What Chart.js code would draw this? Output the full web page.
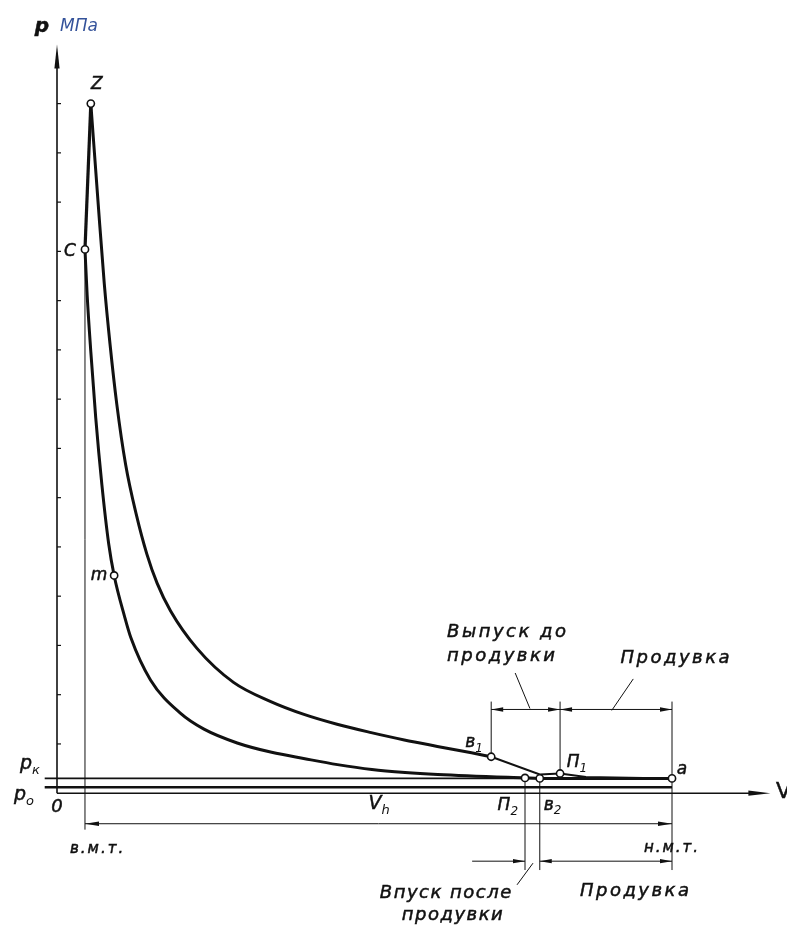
<!DOCTYPE html>
<html lang="ru">
<head>
<meta charset="UTF-8">
<title>Индикаторная диаграмма</title>
<script src="https://cdn.jsdelivr.net/npm/chart.js"></script>
<style>
    body { margin: 0; background: #fff; }
    #wrap { width: 787px; height: 927px; }
</style>
</head>
<body>
<div id="wrap"><canvas id="diagrama" width="787" height="927"></canvas></div>
<script>
    // V - объём (н.м.т. = 100), p - давление, МПа
    const compV = [4.55, 4.9, 5.5, 6.3, 7.3, 8.41, 9.29, 11.0, 12.0, 15.2, 20.1, 23.9, 29.3, 34.9, 40.3, 45.6, 51.2, 56.6, 61.9, 76.1, 78.5, 100];
    const compP = [5.52, 5.06, 4.48, 3.81, 3.13, 2.53, 2.21, 1.79, 1.58, 1.15, 0.81, 0.65, 0.51, 0.415, 0.35, 0.29, 0.24, 0.21, 0.19, 0.155, 0.15, 0.15];

    const expV = [5.5, 6.7, 7.69, 8.62, 9.72, 11.15, 12.89, 14.6, 16.29, 18.47, 22.76, 28.7, 34.76, 40.16, 45.54, 51.09, 56.47, 61.85, 67.4, 70.6];
    const expP = [7.0, 5.98, 5.17, 4.56, 3.95, 3.34, 2.83, 2.43, 2.13, 1.85, 1.47, 1.125, 0.93, 0.80, 0.70, 0.615, 0.54, 0.475, 0.41, 0.37];

    const burnV = [4.55, 5.5];
    const burnP = [5.52, 7.0];

    const exhV = [70.6, 78.5, 81.8, 86, 100];
    const exhP = [0.37, 0.19, 0.20, 0.165, 0.15];

    const pointNames = ['Z', 'C', 'm', 'в1', 'П1', 'a', 'П2', 'в2'];
    const pointV = [5.5, 4.55, 9.29, 70.6, 81.8, 100, 76.1, 78.5];
    const pointP = [7.0, 5.52, 2.21, 0.37, 0.20, 0.15, 0.155, 0.15];

    const pK = 0.15;   // давление продувочного воздуха
    const p0 = 0.06;   // атмосферная линия
    const pTicks = [0.5, 1, 1.5, 2, 2.5, 3, 3.5, 4, 4.5, 5, 5.5, 6, 6.5, 7];

    const ink = '#111';
    const fam = "'DejaVu Sans', sans-serif";

    function pts(vs, ps) {
        return vs.map((v, i) => ({ x: v, y: ps[i] }));
    }

    function seg(ctx, x1, y1, x2, y2, w) {
        ctx.lineWidth = w;
        ctx.beginPath();
        ctx.moveTo(x1, y1);
        ctx.lineTo(x2, y2);
        ctx.stroke();
    }

    // остриё в (x, y), направление (dx, dy)
    function arrow(ctx, x, y, dx, dy, len, w) {
        ctx.beginPath();
        ctx.moveTo(x, y);
        ctx.lineTo(x - dx * len - dy * w, y - dy * len + dx * w);
        ctx.lineTo(x - dx * len + dy * w, y - dy * len - dx * w);
        ctx.closePath();
        ctx.fill();
    }

    function text(ctx, s, x, y, font, spacing) {
        ctx.font = font;
        ctx.letterSpacing = (spacing || 0) + 'px';
        ctx.textAlign = 'center';
        ctx.textBaseline = 'middle';
        ctx.fillText(s, x, y);
        ctx.lineWidth = 0.5;
        ctx.strokeText(s, x, y);
        ctx.letterSpacing = '0px';
    }

    function withSub(ctx, main, sub, x, y, size) {
        ctx.font = `italic ${size}px ${fam}`;
        ctx.textAlign = 'center';
        ctx.textBaseline = 'middle';
        ctx.lineWidth = 0.5;
        ctx.fillText(main, x, y);
        ctx.strokeText(main, x, y);
        const w = ctx.measureText(main).width;
        ctx.font = `italic ${Math.round(size * 0.7)}px ${fam}`;
        ctx.textAlign = 'left';
        ctx.fillText(sub, x + w / 2, y + size * 0.35);
    }

    const labelOffset = {
        'Z': [6, -19], 'C': [-15, 2], 'm': [-15, 0], 'в1': [-21, -14],
        'П1': [13, -11], 'a': [10, -9], 'П2': [-21, 28], 'в2': [9, 27]
    };

    const osi = {
        id: 'osi',
        beforeDatasetsDraw(chart) {
            const { ctx, scales: { x, y } } = chart;
            const X = v => x.getPixelForValue(v);
            const Y = p => y.getPixelForValue(p);
            ctx.save();
            ctx.strokeStyle = ink;
            ctx.fillStyle = ink;

            // ось p
            seg(ctx, X(0), Y(0), X(0), Y(y.max) + 18, 1.6);
            arrow(ctx, X(0), Y(y.max), 0, -1, 24, 2.6);
            pTicks.forEach(t => seg(ctx, X(0), Y(t), X(0) + 4, Y(t), 1.2));

            // ось V
            seg(ctx, X(0), Y(0), X(x.max) - 16, Y(0), 1.5);
            arrow(ctx, X(x.max), Y(0), 1, 0, 22, 2.6);

            // в.м.т. и н.м.т.
            seg(ctx, X(compV[0]), Y(compP[0]), X(compV[0]), Y(-0.37), 1);
            seg(ctx, X(100), Y(0.93), X(100), Y(-0.78), 1);

            // выносные линии
            seg(ctx, X(pointV[3]), Y(pointP[3]), X(pointV[3]), Y(0.93), 1);
            seg(ctx, X(pointV[4]), Y(pointP[4]), X(pointV[4]), Y(0.93), 1);
            seg(ctx, X(pointV[6]), Y(pointP[6]), X(pointV[6]), Y(-0.78), 1);
            seg(ctx, X(pointV[7]), Y(pointP[7]), X(pointV[7]), Y(-0.78), 1);

            // размер Vh
            const yh = Y(-0.31);
            seg(ctx, X(compV[0]), yh, X(100), yh, 1);
            arrow(ctx, X(compV[0]), yh, -1, 0, 14, 2.2);
            arrow(ctx, X(100), yh, 1, 0, 14, 2.2);

            // выпуск до продувки / продувка (сверху)
            const yt = Y(0.85);
            seg(ctx, X(pointV[3]), yt, X(100), yt, 1);
            arrow(ctx, X(pointV[3]), yt, -1, 0, 12, 2.2);
            arrow(ctx, X(pointV[4]), yt, 1, 0, 12, 2.2);
            arrow(ctx, X(pointV[4]), yt, -1, 0, 12, 2.2);
            arrow(ctx, X(100), yt, 1, 0, 12, 2.2);

            // впуск после продувки / продувка (снизу)
            const yb = Y(-0.69);
            seg(ctx, X(67.5), yb, X(pointV[6]), yb, 1);
            seg(ctx, X(pointV[7]), yb, X(100), yb, 1);
            arrow(ctx, X(pointV[6]), yb, 1, 0, 12, 2.2);
            arrow(ctx, X(pointV[7]), yb, -1, 0, 12, 2.2);
            arrow(ctx, X(100), yb, 1, 0, 12, 2.2);

            // выноски надписей
            seg(ctx, X(74.5), Y(1.22), X(76.9), Y(0.86), 1);
            seg(ctx, X(93.7), Y(1.16), X(90.2), Y(0.84), 1);
            seg(ctx, X(77.4), Y(-0.71), X(74.8), Y(-0.93), 1);
            ctx.restore();
        },
        afterDatasetsDraw(chart) {
            const { ctx, scales: { x, y } } = chart;
            const X = v => x.getPixelForValue(v);
            const Y = p => y.getPixelForValue(p);
            ctx.save();
            ctx.fillStyle = ink;
            ctx.strokeStyle = ink;

            // подписи точек
            pointNames.forEach((n, i) => {
                const [dx, dy] = labelOffset[n];
                const px = X(pointV[i]) + dx, py = Y(pointP[i]) + dy;
                if (n.length > 1) withSub(ctx, n[0], n[1], px, py, 17);
                else text(ctx, n, px, py, `italic 17px ${fam}`);
            });

            // подписи осей
            const top = Y(y.max);
            text(ctx, 'p', X(0) - 15, top - 18, `italic bold 20px ${fam}`);
            ctx.fillStyle = '#34529a';
            ctx.font = `italic 17px ${fam}`;
            ctx.textAlign = 'left';
            ctx.textBaseline = 'middle';
            ctx.fillText('МПа', X(0) + 3, top - 18);
            ctx.fillStyle = ink;

            text(ctx, 'V', X(x.max) + 13, Y(0) - 1, `22px ${fam}`);
            withSub(ctx, 'V', 'h', X(51.7), Y(0) + 11, 19);
            text(ctx, '0', X(0), Y(0) + 14, `italic 18px ${fam}`);
            withSub(ctx, 'p', 'к', X(0) - 31, Y(pK) - 14, 19);
            withSub(ctx, 'p', 'o', X(0) - 37, Y(p0) + 8, 19);

            text(ctx, 'в.м.т.', X(6.6), Y(-0.57), `italic 15px ${fam}`, 2);
            text(ctx, 'н.м.т.', X(100), Y(-0.56), `italic 15px ${fam}`, 2);

            const f = `italic 18px ${fam}`;
            text(ctx, 'Выпуск до', X(73.3), Y(1.63), f, 2.5);
            text(ctx, 'продувки', X(72.4), Y(1.39), f, 2.5);
            text(ctx, 'Продувка', X(100.7), Y(1.37), f, 2.5);
            text(ctx, 'Впуск после', X(63.3), Y(-1.02), f, 1.5);
            text(ctx, 'продувки', X(64.4), Y(-1.24), f, 1.5);
            text(ctx, 'Продувка', X(94.1), Y(-1.0), f, 2.5);
            ctx.restore();
        }
    };

    const line = (data, w, extra) => Object.assign({
        data: data,
        showLine: true,
        borderColor: ink,
        borderWidth: w,
        pointRadius: 0,
        tension: 0,
        clip: false
    }, extra || {});

    new Chart(document.getElementById('diagrama'), {
        type: 'scatter',
        data: {
            datasets: [
                {
                    data: pts(pointV, pointP),
                    showLine: false,
                    pointRadius: 3.6,
                    pointBackgroundColor: '#fff',
                    pointBorderColor: ink,
                    pointBorderWidth: 1.6,
                    clip: false
                },
                line(pts(compV, compP), 3, { cubicInterpolationMode: 'monotone' }),
                line(pts(expV, expP), 3, { cubicInterpolationMode: 'monotone' }),
                line(pts(burnV, burnP), 3.2),
                line(pts(exhV, exhP), 2),
                line([{ x: -2, y: pK }, { x: 100, y: pK }], 1.6),
                line([{ x: -2, y: p0 }, { x: 100, y: p0 }], 2.6)
            ]
        },
        options: {
            responsive: false,
            animation: false,
            layout: { padding: { left: 57, right: 16.6, top: 44.5, bottom: 133.8 } },
            scales: {
                x: { type: 'linear', min: 0, max: 116, display: false },
                y: { type: 'linear', min: 0, max: 7.6, display: false }
            },
            plugins: {
                legend: { display: false },
                tooltip: { enabled: false }
            }
        },
        plugins: [osi]
    });
</script>
</body>
</html>
